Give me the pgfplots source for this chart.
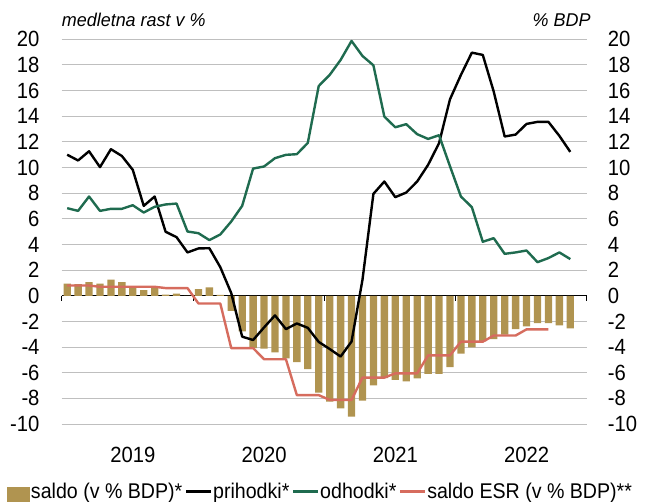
\documentclass[border=0pt]{standalone}
\usepackage{fontspec}
\setmainfont{Liberation Sans}[FakeStretch=0.92]
\newfontfamily\titlefont{Liberation Sans}[FakeStretch=0.97]
\usepackage{pgfplots}
\usepackage{pgfplotstable}
\pgfplotsset{compat=1.18}

\definecolor{saldobar}{RGB}{176,148,80}
\definecolor{odhgreen}{RGB}{31,107,79}
\definecolor{esrred}{RGB}{214,108,94}
\definecolor{gridgray}{RGB}{191,191,191}

% monthly, 0 = jan 2019
\pgfplotstableread{
m saldo prih odh
0 0.94 11.00 6.83
1 0.91 10.55 6.62
2 1.06 11.27 7.74
3 0.94 10.03 6.62
4 1.25 11.43 6.78
5 1.06 10.90 6.78
6 0.73 9.82 7.06
7 0.44 7.01 6.49
8 0.60 7.74 6.94
9 0.08 4.99 7.12
10 0.16 4.57 7.19
11 0.00 3.38 5.01
12 0.51 3.69 4.88
13 0.66 3.71 4.34
14 0.06 2.23 4.78
15 -1.17 0.21 5.79
16 -2.78 -3.19 7.01
17 -4.08 -3.45 9.92
18 -4.13 -2.47 10.08
19 -4.42 -1.53 10.73
20 -4.88 -2.60 10.99
21 -5.17 -2.16 11.04
22 -5.72 -2.50 11.92
23 -7.55 -3.60 16.36
24 -8.26 -4.15 17.22
25 -8.78 -4.74 18.39
26 -9.43 -3.57 19.87
27 -8.18 1.25 18.70
28 -6.98 7.95 17.97
29 -6.42 8.91 13.97
30 -6.55 7.69 13.14
31 -6.68 8.05 13.38
32 -6.44 8.91 12.60
33 -6.10 10.21 12.23
34 -6.10 11.90 12.52
35 -5.56 15.32 10.10
36 -4.52 17.22 7.74
37 -4.03 18.96 6.91
38 -3.55 18.78 4.21
39 -3.38 15.92 4.49
40 -3.04 12.42 3.27
41 -2.60 12.57 3.38
42 -2.39 13.40 3.53
43 -2.13 13.56 2.62
44 -2.13 13.56 2.94
45 -2.31 12.47 3.38
46 -2.55 11.22 2.86
}\fiscal

\pgfplotstableread{
m esr
0 0.80
1 0.80
2 0.80
3 0.70
4 0.70
5 0.70
6 0.70
7 0.70
8 0.70
9 0.60
10 0.60
11 0.60
12 -0.60
13 -0.60
14 -0.60
15 -4.08
16 -4.08
17 -4.08
18 -4.95
19 -4.95
20 -4.95
21 -7.75
22 -7.75
23 -7.75
24 -8.12
25 -8.12
26 -8.12
27 -6.38
28 -6.38
29 -6.38
30 -6.05
31 -6.05
32 -6.05
33 -4.65
34 -4.65
35 -4.65
36 -3.58
37 -3.58
38 -3.58
39 -3.10
40 -3.10
41 -3.10
42 -2.62
43 -2.62
44 -2.62
}\esr

\begin{document}
\begin{tikzpicture}
\pgfplotsset{
  base/.style={
    scale only axis, width=525bp, height=384.7bp,
    at={(61.7bp,78bp)}, anchor=south west,
    xmin=-0.5, xmax=47.5, ymin=-10, ymax=20,
    ytick={-10,-8,...,20},
    /pgf/number format/assume math mode=true,
    ticklabel style={font=\fontsize{22bp}{26bp}\selectfont},
    title style={font=\titlefont\itshape\fontsize{18.5bp}{22bp}\selectfont, inner sep=0pt},
  },
}
\begin{axis}[base,
  axis x line=middle, axis y line=left,
  axis line style={-},
  y axis line style={draw=none},
  x axis line style={black, line width=0.9bp},
  hide obscured x ticks=false, hide obscured y ticks=false,
  xtick={-0.5,11.5,23.5,35.5,47.5}, xticklabels={},
  tick align=outside, major tick length=5bp,
  xtick style={black, line width=0.9bp},
  ytick style={draw=none},
  ymajorgrids, major grid style={gridgray, line width=1bp},
  yticklabel style={inner sep=0pt, xshift=-17bp},
  title={medletna rast v \%},
  title style={at={(0,1)}, anchor=base west, yshift=7bp},
  legend columns=4,
  legend style={at={(-0.1040,-0.1775)}, anchor=west, draw=none, fill=none,
    inner sep=0pt, font=\fontsize{21.3bp}{25bp}\selectfont,
    nodes={inner sep=0.7bp},
    /tikz/every even column/.append style={column sep=2bp}},
  legend image code/.code={\draw[#1] (0bp,0bp) -- (25bp,0bp);},
]
\addplot[ybar, bar width=7.3bp, fill=saldobar, draw=none,
  legend image code/.code={\fill[saldobar] (0bp,-11bp) rectangle (23bp,4bp);}]
  table[x=m, y=saldo] {\fiscal};
\addplot[black, line width=2.4bp, line join=round] table[x=m, y=prih] {\fiscal};
\addplot[odhgreen, line width=2.4bp, line join=round] table[x=m, y=odh] {\fiscal};
\addplot[esrred, line width=2.4bp, line join=round] table[x=m, y=esr] {\esr};
\legend{saldo (v \% BDP)*, prihodki*, odhodki*, saldo ESR (v \% BDP)**}
\end{axis}

\begin{axis}[base,
  axis y line*=right, axis x line*=bottom,
  axis line style={draw=none},
  xtick={6,18,30,42}, xticklabels={2019,2020,2021,2022},
  major tick length=0pt, tick style={draw=none},
  yticklabel style={inner sep=0pt, xshift=21bp},
  xticklabel style={inner sep=0pt, yshift=-22.7bp},
  title={\% BDP},
  title style={at={(1,1)}, anchor=base east, xshift=4bp, yshift=7bp},
]
\end{axis}
\pgfresetboundingbox
\path[use as bounding box] (0,0) rectangle (649bp,502bp);
\end{tikzpicture}
\end{document}
